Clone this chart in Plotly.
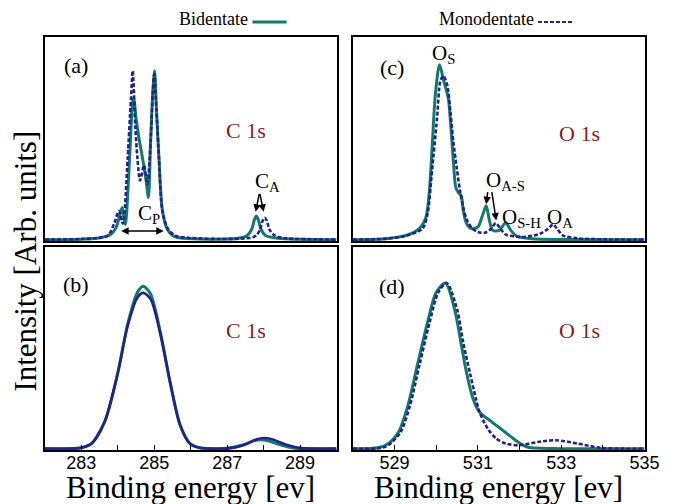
import plotly.graph_objects as go

# ---------------- data ----------------
# Panel (a): C 1s, sharp spectra
a_bi_x = [282.0, 283.0, 283.5, 283.8, 283.95, 284.05, 284.12, 284.17, 284.21, 284.28, 284.35, 284.41, 284.44,
          284.5, 284.59, 284.68, 284.77, 284.84, 284.9, 284.96, 285.01, 285.06, 285.13, 285.22, 285.35, 285.53,
          285.8, 286.5, 287.3, 287.55, 287.67, 287.75, 287.8, 287.85, 287.93, 288.05, 288.4, 289.0, 290.0]
a_bi_y = [0.0, 0.003, 0.01, 0.03, 0.07, 0.14, 0.19, 0.13, 0.09, 0.3, 0.6, 0.82, 0.84,
          0.72, 0.59, 0.48, 0.36, 0.25, 0.58, 0.87, 1.0, 0.77, 0.48, 0.18, 0.065, 0.02,
          0.008, 0.003, 0.008, 0.025, 0.06, 0.12, 0.14, 0.12, 0.06, 0.025, 0.008, 0.002, 0.0]
a_mono_x = [282.0, 283.0, 283.5, 283.73, 283.91, 284.03, 284.14, 284.27, 284.36, 284.41, 284.48, 284.54,
            284.61, 284.72, 284.81, 284.9, 284.96, 285.0, 285.06, 285.13, 285.23, 285.4, 285.62, 286.0,
            286.8, 287.6, 287.8, 287.9, 287.97, 288.03, 288.09, 288.16, 288.3, 288.6, 289.5, 290.0]
a_mono_y = [0.0, 0.004, 0.012, 0.025, 0.1, 0.17, 0.094, 0.48, 0.83, 1.0, 0.67, 0.48,
            0.35, 0.44, 0.33, 0.58, 0.87, 0.98, 0.77, 0.48, 0.16, 0.055, 0.02, 0.01,
            0.004, 0.01, 0.025, 0.06, 0.11, 0.13, 0.11, 0.06, 0.025, 0.008, 0.002, 0.0]

# Panel (c): O 1s, sharp spectra
c_bi_x = [528.0, 528.8, 529.28, 529.59, 529.75, 529.83, 529.906, 529.98, 530.08, 530.18, 530.26, 530.3,
          530.36, 530.41, 530.47, 530.53, 530.6, 530.65, 530.73, 530.85, 531.0, 531.12, 531.2, 531.28,
          531.36, 531.51, 531.67, 531.79, 531.94, 532.3, 533.0, 535.0]
c_bi_y = [0.0, 0.006, 0.025, 0.065, 0.13, 0.27, 0.565, 0.86, 1.035, 0.94, 0.87, 0.82,
          0.64, 0.47, 0.31, 0.28, 0.26, 0.17, 0.094, 0.065, 0.075, 0.15, 0.2, 0.11,
          0.055, 0.055, 0.1, 0.055, 0.02, 0.005, 0.001, 0.0]
c_mono_x = [528.0, 528.8, 529.3, 529.67, 529.79, 529.9, 530.02, 530.1, 530.17, 530.26, 530.34, 530.41,
            530.49, 530.57, 530.65, 530.73, 530.85, 531.0, 531.16, 531.32, 531.43, 531.54, 531.67,
            532.1, 532.49, 532.69, 532.8, 532.9, 533.04, 533.4, 534.0, 535.0]
c_mono_y = [0.0, 0.006, 0.025, 0.065, 0.15, 0.41, 0.72, 0.94, 0.97, 0.92, 0.76, 0.58,
            0.43, 0.29, 0.19, 0.12, 0.07, 0.045, 0.04, 0.065, 0.098, 0.065, 0.03,
            0.016, 0.035, 0.065, 0.09, 0.065, 0.025, 0.008, 0.002, 0.0]

# Panel (b): C 1s, broadened
b_bi_x = [282.0, 282.7, 283.0, 283.28, 283.64, 284.0, 284.27, 284.54, 284.7, 284.9, 285.17, 285.44,
          285.71, 285.98, 286.24, 286.6, 287.0, 287.4, 287.7, 287.9, 288.15, 288.5, 288.85, 289.3, 290.0]
b_bi_y = [0.0, 0.0, 0.005, 0.03, 0.16, 0.45, 0.74, 0.93, 0.966, 0.92, 0.69, 0.39,
          0.14, 0.03, 0.005, 0.0, 0.002, 0.02, 0.045, 0.053, 0.045, 0.02, 0.003, 0.0, 0.0]
b_mono_x = [282.0, 282.7, 283.0, 283.28, 283.64, 284.0, 284.27, 284.54, 284.7, 284.9, 285.17, 285.44,
            285.71, 285.98, 286.24, 286.6, 287.1, 287.5, 287.8, 288.0, 288.25, 288.6, 289.04, 289.4, 290.0]
b_mono_y = [0.0, 0.0, 0.005, 0.03, 0.16, 0.45, 0.73, 0.9, 0.927, 0.89, 0.68, 0.39,
            0.14, 0.03, 0.005, 0.0, 0.003, 0.025, 0.055, 0.063, 0.055, 0.025, 0.003, 0.0, 0.0]

# Panel (d): O 1s, broadened
d_bi_x = [528.0, 528.6, 528.85, 529.1, 529.32, 529.55, 529.79, 530.0, 530.22, 530.45, 530.6, 530.73,
          530.88, 531.04, 531.3, 531.55, 531.8, 532.02, 532.2, 533.0, 535.0]
d_bi_y = [0.0, 0.005, 0.03, 0.1, 0.256, 0.5, 0.75, 0.93, 0.986, 0.82, 0.62, 0.45,
          0.3, 0.217, 0.165, 0.118, 0.07, 0.03, 0.008, 0.0, 0.0]
d_mono_x = [528.0, 528.7, 528.9, 529.15, 529.37, 529.6, 529.84, 530.05, 530.25, 530.5, 530.65, 530.81,
            530.95, 531.04, 531.24, 531.44, 531.67, 531.98, 532.45, 532.88, 533.4, 533.94, 534.5, 535.0]
d_mono_y = [0.0, 0.005, 0.03, 0.1, 0.256, 0.5, 0.75, 0.93, 0.986, 0.83, 0.63, 0.45,
            0.3, 0.217, 0.118, 0.06, 0.03, 0.02, 0.04, 0.05, 0.03, 0.005, 0.0, 0.0]

series_names = ["Bidentate", "Monodentate"]
c_ticks = [283, 284, 285, 286, 287, 288, 289]
c_ticktext = ["283", "", "285", "", "287", "", "289"]
o_ticks = [529, 530, 531, 532, 533, 534, 535]
o_ticktext = ["529", "", "531", "", "533", "", "535"]

TEAL = "#117a6d"
NAVY = "#22228a"
DARKRED = "#8e1b1b"
SERIF = "Liberation Serif, Times New Roman, serif"
SANS = "Liberation Sans, Arial, sans-serif"

W, H = 676, 504
OFF = 8  # the page body margin shifts the figure by 8 px


def px_x(p):
    return (p - OFF) / W


def px_y(p):
    return 1 - (p - OFF) / H


fig = go.Figure()

panels = [
    ("x", "y", a_bi_x, a_bi_y, a_mono_x, a_mono_y, "dash"),
    ("x2", "y2", c_bi_x, c_bi_y, c_mono_x, c_mono_y, "dash"),
    ("x3", "y3", b_bi_x, b_bi_y, b_mono_x, b_mono_y, "solid"),
    ("x4", "y4", d_bi_x, d_bi_y, d_mono_x, d_mono_y, "dash"),
]
for xa, ya, bx, by, mx, my, mdash in panels:
    fig.add_trace(go.Scatter(x=bx, y=by, xaxis=xa, yaxis=ya, mode="lines", name=series_names[0],
                             line=dict(color=TEAL, width=3, shape="spline", smoothing=0.8),
                             showlegend=False))
    fig.add_trace(go.Scatter(x=mx, y=my, xaxis=xa, yaxis=ya, mode="lines", name=series_names[1],
                             line=dict(color=NAVY, width=2.6, shape="spline", smoothing=0.8,
                                       dash="4px,2px" if mdash == "dash" else "solid"),
                             showlegend=False))

xl = [px_x(45.7), px_x(344)]
xr = [px_x(360.7), px_x(659)]
yt = [px_y(241), px_y(37)]
yb = [px_y(450), px_y(247)]

line_common = dict(showline=True, linecolor="black", linewidth=1.5, mirror=True, showgrid=False,
                   zeroline=False)
common_y = dict(showticklabels=False, ticks="", range=[-0.008, 1.2], **line_common)
tick_font = dict(family=SANS, size=18, color="black")

fig.update_layout(
    width=W, height=H, margin=dict(l=0, r=0, t=0, b=0),
    plot_bgcolor="white", paper_bgcolor="white", showlegend=False,
    xaxis=dict(domain=xl, anchor="y", range=[282, 290], showticklabels=False, ticks="", **line_common),
    yaxis=dict(domain=yt, anchor="x", **common_y),
    xaxis2=dict(domain=xr, anchor="y2", range=[528, 535], showticklabels=False, ticks="", **line_common),
    yaxis2=dict(domain=yt, anchor="x2", **common_y),
    xaxis3=dict(domain=xl, anchor="y3", range=[282, 290], tickmode="array", tickvals=c_ticks,
                ticktext=c_ticktext, ticks="inside", ticklen=5, tickwidth=1, tickcolor="black",
                tickfont=tick_font, ticklabelstandoff=-4, **line_common),
    yaxis3=dict(domain=yb, anchor="x3", **common_y),
    xaxis4=dict(domain=xr, anchor="y4", range=[528, 535], tickmode="array", tickvals=o_ticks,
                ticktext=o_ticktext, ticks="inside", ticklen=5, tickwidth=1, tickcolor="black",
                tickfont=tick_font, ticklabelstandoff=-4, **line_common),
    yaxis4=dict(domain=yb, anchor="x4", **common_y),
)

title_font = dict(family=SERIF, size=31, color="black")
ann = []
# axis titles
ann.append(dict(xref="paper", yref="paper", x=px_x(25), y=px_y(261), text="Intensity [Arb. units]",
                textangle=-90, showarrow=False, font=title_font, xanchor="center", yanchor="middle"))
for cx in (195, 510):
    ann.append(dict(xref="paper", yref="paper", x=px_x(cx), y=px_y(487), text="Binding energy [ev]",
                    showarrow=False, font=title_font, xanchor="center", yanchor="middle"))
# panel labels
lab_font = dict(family=SERIF, size=22, color="black")
for t, x, y in [("(a)", 78, 65), ("(c)", 401, 67), ("(b)", 78, 284), ("(d)", 401, 286)]:
    ann.append(dict(xref="paper", yref="paper", x=px_x(x), y=px_y(y), text=t, showarrow=False,
                    font=lab_font, xanchor="center", yanchor="middle"))
# C 1s / O 1s
red_font = dict(family=SERIF, size=22, color=DARKRED)
for t, x, y in [("C 1s", 251, 130), ("O 1s", 592, 133), ("C 1s", 251, 330), ("O 1s", 592, 330)]:
    ann.append(dict(xref="paper", yref="paper", x=px_x(x), y=px_y(y), text=t, showarrow=False,
                    font=red_font, xanchor="center", yanchor="middle"))

pk_font = dict(family=SERIF, size=21, color="black")
# C_P double arrow
ann.append(dict(xref="x", yref="y", x=285.26, y=0.051, ax=284.05, ay=0.051, axref="x", ayref="y",
                text="", showarrow=True, arrowhead=2, arrowside="end+start", arrowsize=1, arrowwidth=1.5,
                arrowcolor="black"))
ann.append(dict(xref="x", yref="y", x=284.49, y=0.15, text="C<sub>P</sub>", showarrow=False, font=pk_font,
                xanchor="left"))
# C_A arrows
ann.append(dict(xref="x", yref="y", x=287.70, y=0.34, text="C<sub>A</sub>", showarrow=False, font=pk_font,
                xanchor="left"))
for hx in (287.78, 288.0):
    ann.append(dict(xref="x", yref="y", x=hx, y=0.165, ax=287.89, ay=0.28, axref="x", ayref="y",
                    text="", showarrow=True, arrowhead=2, arrowsize=1, arrowwidth=1.5, arrowcolor="black"))
# O labels
ann.append(dict(xref="x2", yref="y2", x=529.85, y=1.1, text="O<sub>S</sub>", showarrow=False, font=pk_font,
                xanchor="left"))
ann.append(dict(xref="x2", yref="y2", x=531.14, y=0.35, text="O<sub>A-S</sub>", showarrow=False,
                font=pk_font, xanchor="left"))
ann.append(dict(xref="x2", yref="y2", x=531.53, y=0.13, text="O<sub>S-H</sub>", showarrow=False,
                font=pk_font, xanchor="left"))
ann.append(dict(xref="x2", yref="y2", x=532.61, y=0.13, text="O<sub>A</sub>", showarrow=False,
                font=pk_font, xanchor="left"))
for (tx, hx, hy) in ((531.24, 531.2, 0.21), (531.33, 531.44, 0.113)):
    ann.append(dict(xref="x2", yref="y2", x=hx, y=hy, ax=tx, ay=0.29, axref="x2", ayref="y2",
                    text="", showarrow=True, arrowhead=2, arrowsize=1, arrowwidth=1.5, arrowcolor="black"))
# legend
leg_font = dict(family=SERIF, size=18, color="black")
ann.append(dict(xref="paper", yref="paper", x=px_x(256), y=px_y(19), text="Bidentate", showarrow=False,
                font=leg_font, xanchor="right", yanchor="middle"))
ann.append(dict(xref="paper", yref="paper", x=px_x(548), y=px_y(19), text="Monodentate", showarrow=False,
                font=leg_font, xanchor="right", yanchor="middle"))
fig.update_layout(annotations=ann)
fig.add_shape(type="line", xref="paper", yref="paper", x0=px_x(258), x1=px_x(293), y0=px_y(22), y1=px_y(22),
              line=dict(color=TEAL, width=3))
fig.add_shape(type="line", xref="paper", yref="paper", x0=px_x(550), x1=px_x(587), y0=px_y(22), y1=px_y(22),
              line=dict(color=NAVY, width=2, dash="4px,2px"))

fig.write_html("out.html")
